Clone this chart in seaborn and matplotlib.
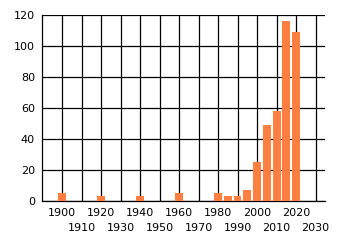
import matplotlib
matplotlib.use("Agg")
import matplotlib.pyplot as plt
import seaborn as sns
import pandas as pd

years = [1900, 1920, 1940, 1960, 1980, 1985, 1990, 1995, 2000, 2005, 2010, 2015, 2020]
counts = [5, 3, 3, 5, 5, 3, 3, 7, 25, 49, 58, 116, 109]
xticks_upper = [1900, 1920, 1940, 1960, 1980, 2000, 2020]
xticks_lower = [1910, 1930, 1950, 1970, 1990, 2010, 2030]
yticks = [0, 20, 40, 60, 80, 100, 120]

df = pd.DataFrame({"year": years, "count": counts})

sns.set_style("white")
plt.rcParams["font.family"] = ["DejaVu Sans"]

fig = plt.figure(figsize=(3.4, 2.45), dpi=100)
ax = fig.add_axes([42/340, 44/245, (325-42)/340, (201-15)/245])
sns.barplot(data=df, x="year", y="count", native_scale=True, color="#FF7F40",
            saturation=1, width=0.8, ax=ax, zorder=3)
for p in ax.patches:
    p.set_edgecolor("none")

ax.set_xlim(1889.75, 2034.8)
ax.set_ylim(0, 120)
ax.set_xticks(xticks_upper)
ax.set_xticklabels([str(t) for t in xticks_upper], fontsize=8)
ax.set_xticks(xticks_lower, minor=True)
ax.set_xticklabels([str(t) for t in xticks_lower], fontsize=8, minor=True)
ax.set_yticks(yticks)
ax.set_yticklabels([str(v) for v in yticks], fontsize=8)
ax.grid(True, which="both", axis="x", color="black", linewidth=0.9)
ax.grid(True, which="major", axis="y", color="black", linewidth=0.9)
ax.set_axisbelow(True)
for s in ["top", "right"]:
    ax.spines[s].set_visible(False)
for s in ["left", "bottom"]:
    ax.spines[s].set_color("black")
    ax.spines[s].set_linewidth(0.9)
ax.tick_params(axis="both", which="major", length=3, width=0.9, color="black",
               pad=2, labelcolor="black")
ax.tick_params(axis="x", which="minor", length=3, width=0.9, color="black",
               pad=12.5, labelcolor="black")
ax.set_xlabel("")
ax.set_ylabel("")
fig.savefig("out.png", dpi=100)
